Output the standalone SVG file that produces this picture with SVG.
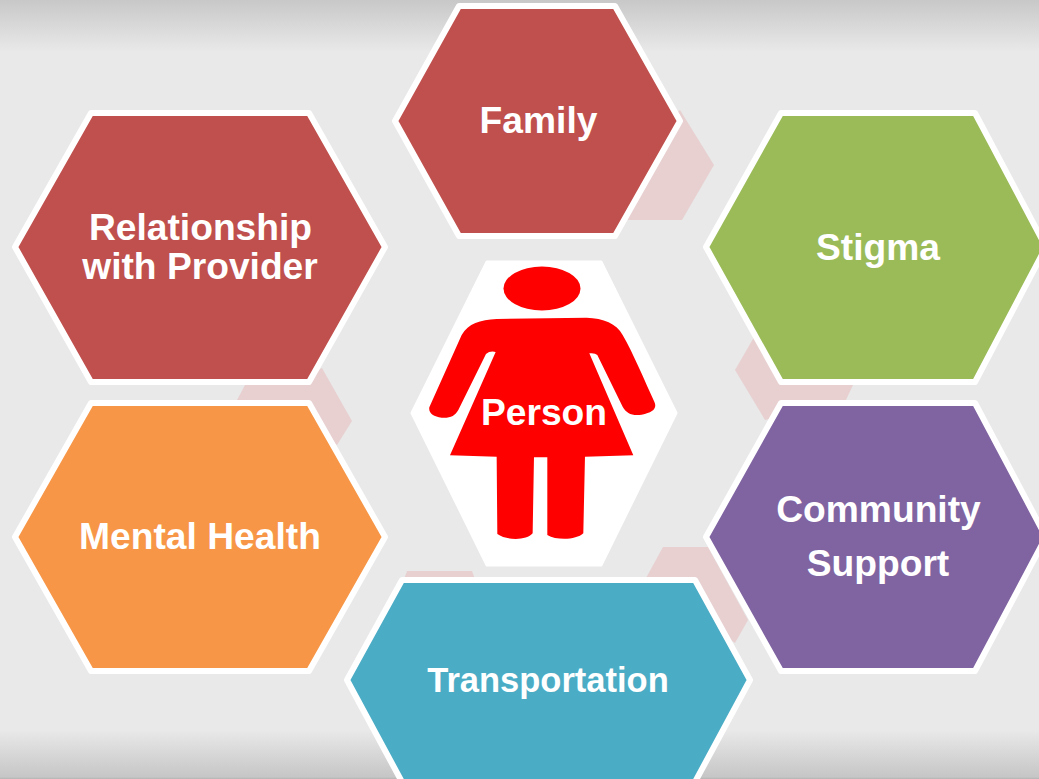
<svg xmlns="http://www.w3.org/2000/svg" width="1039" height="779" viewBox="0 0 1039 779">
<style>
.hex{stroke:#fff;stroke-width:6;stroke-linejoin:round}
.lbl{font-family:"Liberation Sans",Arial,sans-serif;font-weight:700;font-size:37.200px;fill:#fff;text-anchor:middle}
.link{fill:#e8d0d1}
</style>
<defs>
<linearGradient id="bgTop" x1="0" y1="0" x2="0" y2="1"><stop offset="0" stop-color="#c8c8c8"/><stop offset="1" stop-color="#e9e9e9"/></linearGradient>
<linearGradient id="bgBot" x1="0" y1="0" x2="0" y2="1"><stop offset="0" stop-color="#e9e9e9"/><stop offset="0.96" stop-color="#c6c6c6"/><stop offset="1" stop-color="#b4b4b4"/></linearGradient>
</defs>
<rect id="background" width="1039" height="779" fill="#e9e9e9"/>
<rect width="1039" height="52" fill="url(#bgTop)"/>
<rect y="730" width="1039" height="49" fill="url(#bgBot)"/>
<g id="connectors">
<polygon class="link" points="680,110 714,165 682,220 620,220 640,150"/>
<polygon class="link" points="735,370 757,332 860,340 853,385 845,402 765,420"/>
<polygon class="link" points="352,421 322,368 300,380 245,385 237,400 300,420 337,445"/>
<polygon class="link" points="407,571 472,571 477,585 402,585"/>
<polygon class="link" points="663,547 708,547 748,620 735,643 700,620 646,578"/>
</g>
<g id="node-family"><polygon class="hex" fill="#c0504d" points="459,6 615,6 680,121 615,236 459,236 395,121"/><text class="lbl" x="538.500" y="133">Family</text></g>
<g id="node-relationship"><polygon class="hex" fill="#c0504d" points="91,113 309,113 385,247 309,382 91,382 15,247"/><text class="lbl" x="200.500" y="240">Relationship</text><text class="lbl" x="200" y="279">with Provider</text></g>
<g id="node-stigma"><polygon class="hex" fill="#9bbb59" points="781,113 975,113 1046,247 975,382 781,382 706,247"/><text class="lbl" x="878" y="260">Stigma</text></g>
<g id="node-mental-health"><polygon class="hex" fill="#f79646" points="91,403 309,403 385,537 309,671 91,671 15,537"/><text class="lbl" x="200" y="549">Mental Health</text></g>
<g id="node-community"><polygon class="hex" fill="#8064a2" points="781,403 975,403 1046,537 975,671 781,671 706,537"/><text class="lbl" x="878.500" y="522">Community</text><text class="lbl" x="878" y="576">Support</text></g>
<g id="node-transportation"><polygon class="hex" fill="#4bacc6" points="402,580 695,580 750,680 695,782 402,782 347,680"/><text class="lbl" style="font-size:34.500px" x="548" y="692">Transportation</text></g>
<g id="node-person">
<polygon fill="#fff" stroke="#fff" stroke-width="3" stroke-linejoin="round" points="487,262 601,262 676,413 601,565 487,565 412,413"/>
<ellipse cx="542" cy="288.500" rx="38.500" ry="22" fill="#f00"/>
<path fill="#f00" transform="translate(400 250) scale(.3333)" d="M290 207 L560 203 C610 205 650 220 668 255 C700 310 735 395 763 455 C772 475 760 488 725 494 C695 498 680 490 668 470 L592 315 Q585 308 568 310 L700 616 L555 620 L550 850 C530 870 470 872 442 855 L442 622 L402 622 L398 850 C380 872 320 872 292 852 L290 620 L150 616 L287 306 Q270 302 258 312 L175 480 C165 498 150 505 125 503 C100 500 85 488 88 472 L185 255 C205 220 240 210 290 207 Z"/>
<text class="lbl" x="544" y="425">Person</text>
</g>
</svg>
